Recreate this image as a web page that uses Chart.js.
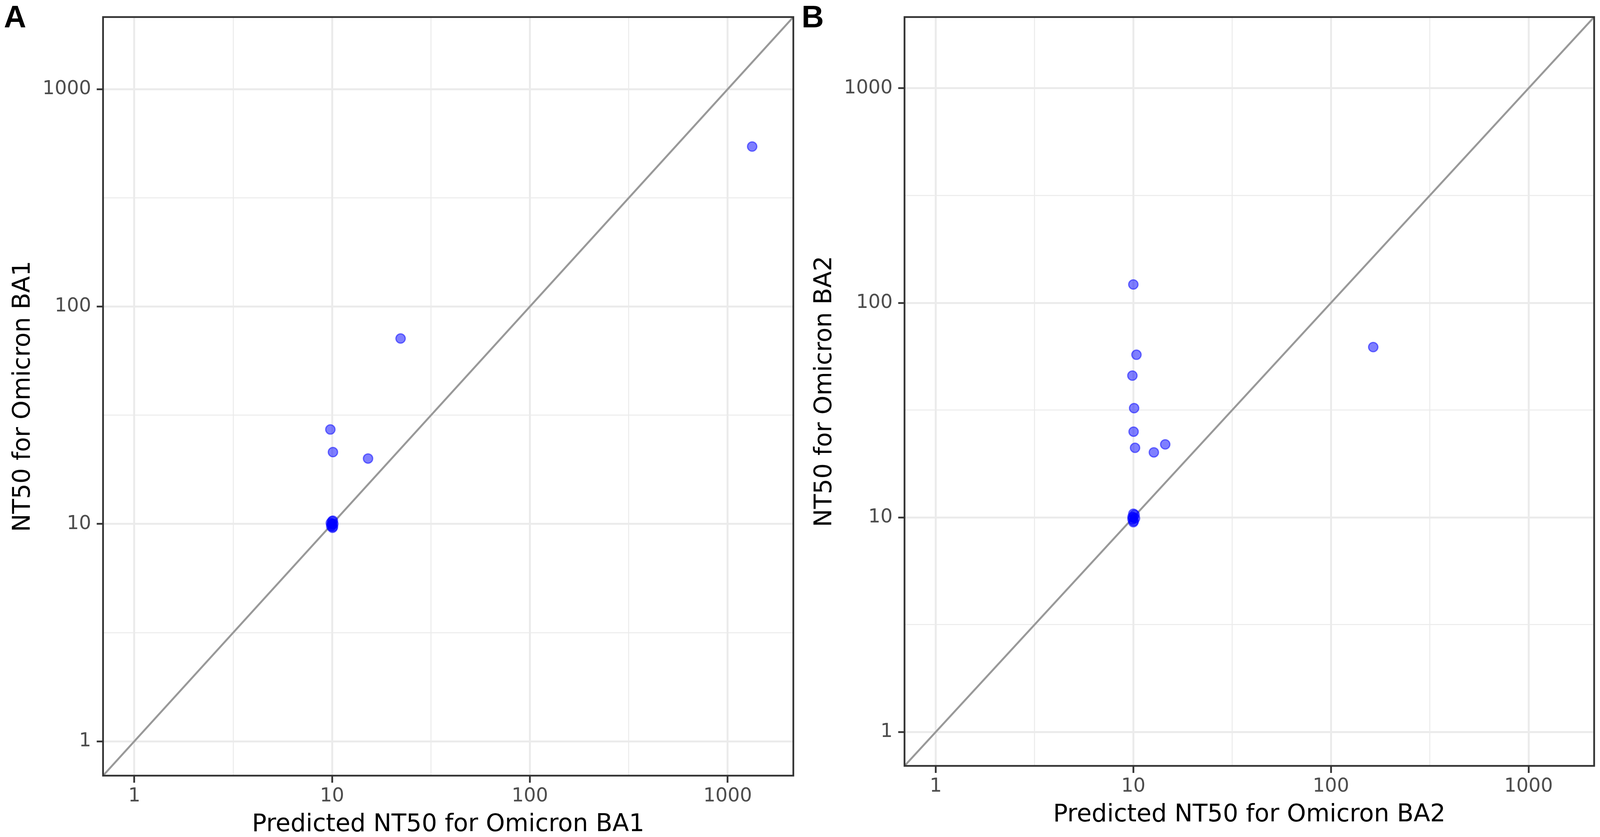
<!DOCTYPE html>
<html lang="en">

<head>
    <meta charset="UTF-8" />
    <title>NT50 Omicron BA1 / BA2</title>
    <script src="https://cdn.jsdelivr.net/npm/chart.js"></script>
    <style>
        html, body { margin: 0; background: #fff; overflow: hidden; }
        .painel { position: absolute; top: 0; height: 2142px; }
        .letra {
            position: absolute; top: 3px;
            font: bold 79px "Liberation Sans", Arial, sans-serif;
            line-height: 1; color: #000;
        }
    </style>
</head>

<body>
    <div class="letra" id="letraA">A</div>
    <div class="letra" id="letraB">B</div>

    <div class="painel" id="painelA">
        <canvas id="graficoA"></canvas>
    </div>
    <div class="painel" id="painelB">
        <canvas id="graficoB"></canvas>
    </div>
</body>
</html>
<script>
    // axis range (log10 scale) and ticks
    const axisMin = 0.695;
    const axisMax = 2148;
    const majorTicks = [1, 10, 100, 1000];
    const minorTicks = [3.162, 31.62, 316.2];
    const diagonal = [axisMin, axisMax];

    // panel A: predicted vs measured NT50, Omicron BA1
    const ba1Predicted = [1330, 22.2, 9.8, 10.1, 15.2, 10, 10, 10.1, 9.85, 10.15, 9.9, 10.05, 9.95, 10.1];
    const ba1Observed  = [545, 71.3, 27.2, 21.4, 20.0, 10, 10.3, 10.35, 10.1, 10.0, 9.75, 9.6, 9.9, 9.7];

    // panel B: predicted vs measured NT50, Omicron BA2
    const ba2Predicted = [10.0, 10.37, 9.89, 10.09, 10.03, 10.2, 12.7, 14.5, 163.7, 10, 10, 10.15, 9.9, 10.05, 9.9, 10.2, 10];
    const ba2Observed  = [121.8, 57.3, 45.8, 32.3, 25.1, 21.1, 20.1, 21.9, 62.2, 10, 10.4, 10.3, 10.05, 9.6, 9.8, 9.9, 9.5];

    const fonte = '"DejaVu Sans", Verdana, sans-serif';
    const isMajor = v => majorTicks.includes(v);

    // the figure was laid out for 4317px wide; squeeze horizontally to the real window
    const sx = window.innerWidth / 4317;
    const larguraA = Math.round(2158 * sx);

    document.getElementById("painelA").style.left = "0px";
    document.getElementById("painelA").style.width = larguraA + "px";
    document.getElementById("painelB").style.left = larguraA + "px";
    document.getElementById("painelB").style.width = (window.innerWidth - larguraA) + "px";
    document.getElementById("letraA").style.left = Math.round(11 * sx) + "px";
    document.getElementById("letraB").style.left = Math.round(2163 * sx) + "px";

    // panel border on top (like ggplot theme_bw)
    const bordaPainel = {
        id: "bordaPainel",
        afterDraw(chart) {
            const { ctx, chartArea } = chart;
            ctx.save();
            ctx.strokeStyle = "#333333";
            ctx.lineWidth = 4.5;
            ctx.strokeRect(chartArea.left, chartArea.top, chartArea.right - chartArea.left, chartArea.bottom - chartArea.top);
            ctx.restore();
        }
    };

    function eixo(titulo, tamanho, tickLen, tickPad, tituloPad) {
        return {
            type: "logarithmic",
            min: axisMin,
            max: axisMax,
            afterBuildTicks: scale => {
                scale.ticks = majorTicks.concat(minorTicks).sort((a, b) => a - b).map(v => ({ value: v }));
            },
            afterFit: scale => {
                if (scale.isHorizontal()) scale.height = tamanho;
                else scale.width = tamanho;
            },
            border: { display: false },
            grid: {
                color: "#EBEBEB",
                lineWidth: c => (c.tick && isMajor(c.tick.value)) ? 5 : 2.5,
                tickColor: c => (c.tick && isMajor(c.tick.value)) ? "#333333" : "rgba(0,0,0,0)",
                tickWidth: 4.5,
                tickLength: tickLen
            },
            ticks: {
                autoSkip: false,
                maxRotation: 0,
                padding: tickPad,
                color: "#4D4D4D",
                font: { family: fonte, size: 49, lineHeight: 1.2 },
                callback: v => isMajor(v) ? String(v) : ""
            },
            title: {
                display: true,
                text: titulo,
                color: "#000000",
                padding: tituloPad,
                font: { family: fonte, size: 62, lineHeight: 1 }
            }
        };
    }

    function criarGrafico(id, xs, ys, tituloX, tituloY, padding, larguraY) {
        const pontos = xs.map((x, i) => ({ x: x, y: ys[i] }));
        const linha = diagonal.map(v => ({ x: v, y: v }));
        const padTituloY = (58.4 + larguraY - 278) * sx + 4.2 - 31;

        new Chart(document.getElementById(id), {
            type: "scatter",
            data: {
                datasets: [
                    {
                        label: "pontos",
                        data: pontos,
                        order: 0,
                        backgroundColor: "rgba(0, 0, 255, 0.5)",
                        borderColor: "rgba(0, 0, 255, 0.5)",
                        borderWidth: 3,
                        pointRadius: 12
                    },
                    {
                        label: "y = x",
                        type: "line",
                        data: linha,
                        order: 1,
                        borderColor: "#999999",
                        borderWidth: 5,
                        pointRadius: 0
                    }
                ]
            },
            options: {
                animation: false,
                responsive: true,
                maintainAspectRatio: false,
                layout: { padding: padding },
                plugins: {
                    legend: { display: false },
                    tooltip: { enabled: false }
                },
                scales: {
                    x: eixo(tituloX, 157, 18, 6, { top: 0, bottom: 0 }),
                    y: eixo(tituloY, larguraY * sx, 17 * sx, 15 * sx, { top: padTituloY, bottom: 0 })
                }
            },
            plugins: [bordaPainel]
        });
    }

    criarGrafico("graficoA", ba1Predicted, ba1Observed,
        "Predicted NT50 for Omicron BA1", "NT50 for Omicron BA1",
        { top: 39, right: 18 * sx, bottom: 0, left: 0 }, 278);

    criarGrafico("graficoB", ba2Predicted, ba2Observed,
        "Predicted NT50 for Omicron BA2", "NT50 for Omicron BA2",
        { top: 14, right: 15 * sx, bottom: 25, left: 0 }, 282);
</script>
